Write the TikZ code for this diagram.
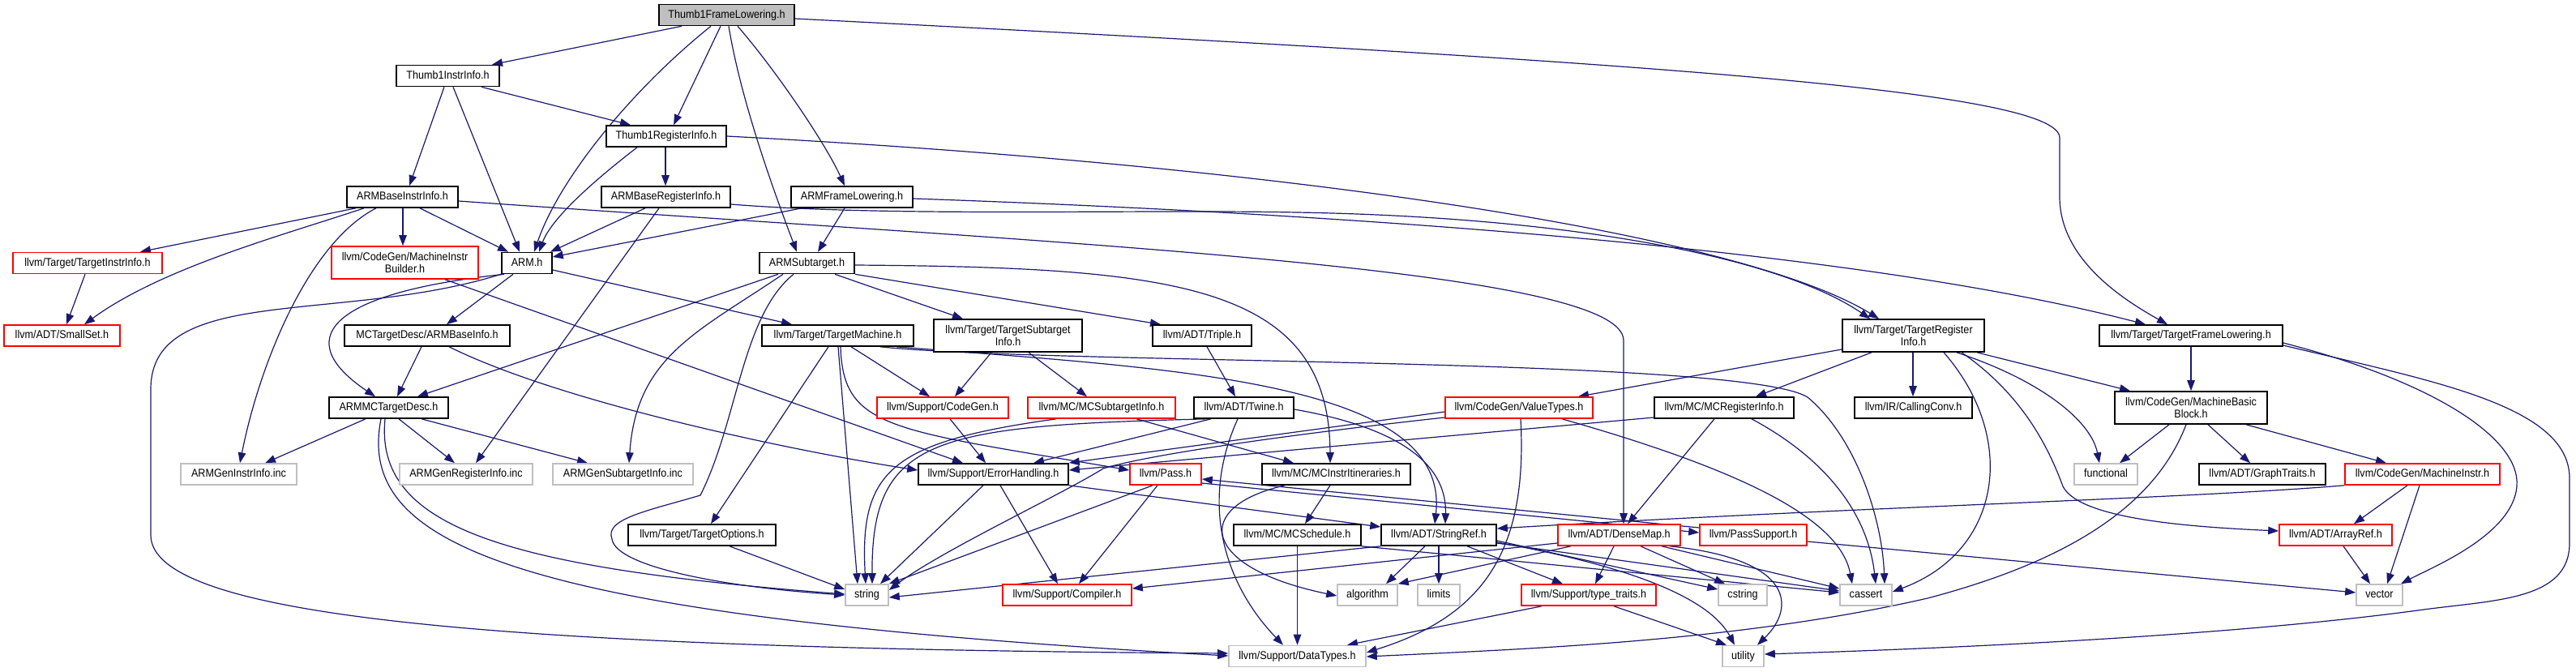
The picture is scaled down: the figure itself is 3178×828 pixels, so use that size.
\documentclass[tikz,border=0pt]{standalone}
\usepackage{fontspec}
\setmainfont{Liberation Sans}[FakeStretch=0.9]
\usetikzlibrary{arrows.meta,backgrounds}
\definecolor{edgec}{HTML}{191970}
\definecolor{rborder}{HTML}{FF0000}
\definecolor{gborder}{HTML}{BFBFBF}
\definecolor{rootfill}{HTML}{BFBFBF}
\newcommand{\graphfont}{\fontsize{14}{14.5}\selectfont}
\begin{document}
\begin{tikzpicture}[x=1pt,y=-1pt,
  nb/.style={rectangle, inner sep=0pt, line width=1.6pt, font=\graphfont, align=center, text=black, fill=white},
  bbox/.style={nb, draw=black, minimum height=26pt, text height=10.5pt, text depth=3.5pt},
  rbox/.style={nb, draw=rborder, minimum height=26pt, text height=10.5pt, text depth=3.5pt},
  gbox/.style={nb, draw=gborder, minimum height=26pt, text height=10.5pt, text depth=3.5pt},
  rootbox/.style={bbox, fill=rootfill},
  bbox2/.style={nb, draw=black, minimum height=40pt},
  rbox2/.style={nb, draw=rborder, minimum height=40pt},
  dep/.style={draw=edgec, line width=1.2pt, -{Triangle[length=13pt,width=9.5pt]}, line join=round},
]
\useasboundingbox (0,0) rectangle (3178,828);
% ---------- nodes ----------
\node[rootbox, minimum width=167pt] (t1fl) at (896.5,18.5) {Thumb1FrameLowering.h};
\node[bbox, minimum width=127pt] (t1ii) at (552.5,93.5) {Thumb1InstrInfo.h};
\node[bbox, minimum width=148pt] (t1ri) at (822,168) {Thumb1RegisterInfo.h};
\node[bbox, minimum width=137pt] (abii) at (496.5,243) {ARMBaseInstrInfo.h};
\node[bbox, minimum width=159pt] (abri) at (821.5,243) {ARMBaseRegisterInfo.h};
\node[bbox, minimum width=150pt] (afl) at (1051,243) {ARMFrameLowering.h};
\node[rbox, minimum width=184pt] (tii) at (108,324.5) {llvm/Target/TargetInstrInfo.h};
\node[rbox2, minimum width=181pt] (mib) at (499.5,324) {llvm/CodeGen/MachineInstr\\Builder.h};
\node[bbox, minimum width=62pt] (arm) at (650,324.5) {ARM.h};
\node[bbox, minimum width=117pt] (asub) at (995.5,324.5) {ARMSubtarget.h};
\node[rbox, minimum width=143pt] (ss) at (76.5,414) {llvm/ADT/SmallSet.h};
\node[bbox, minimum width=204pt] (abi) at (527,414) {MCTargetDesc/ARMBaseInfo.h};
\node[bbox, minimum width=187pt] (tm) at (1033.5,414) {llvm/Target/TargetMachine.h};
\node[bbox2, minimum width=183pt] (tsi) at (1243.5,414) {llvm/Target/TargetSubtarget\\Info.h};
\node[bbox, minimum width=122pt] (tri) at (1483,414) {llvm/ADT/Triple.h};
\node[bbox2, minimum width=175pt] (treg) at (2360.5,414) {llvm/Target/TargetRegister\\Info.h};
\node[bbox, minimum width=226pt] (tfl) at (2703,414) {llvm/Target/TargetFrameLowering.h};
\node[bbox, minimum width=147pt] (amctd) at (479.5,503) {ARMMCTargetDesc.h};
\node[rbox, minimum width=162pt] (cg) at (1163,503) {llvm/Support/CodeGen.h};
\node[rbox, minimum width=182pt] (mcsi) at (1359,503) {llvm/MC/MCSubtargetInfo.h};
\node[bbox, minimum width=123pt] (tw) at (1534.5,503) {llvm/ADT/Twine.h};
\node[rbox, minimum width=182pt] (vt) at (1874,503) {llvm/CodeGen/ValueTypes.h};
\node[bbox, minimum width=172pt] (mcri) at (2127,503) {llvm/MC/MCRegisterInfo.h};
\node[bbox, minimum width=145pt] (cc) at (2360.5,503) {llvm/IR/CallingConv.h};
\node[bbox2, minimum width=188pt] (mbb) at (2703,503) {llvm/CodeGen/MachineBasic\\Block.h};
\node[gbox, minimum width=143pt] (gii) at (294.5,585) {ARMGenInstrInfo.inc};
\node[gbox, minimum width=164pt] (gri) at (575,585) {ARMGenRegisterInfo.inc};
\node[gbox, minimum width=173pt] (gsi) at (768.5,585) {ARMGenSubtargetInfo.inc};
\node[bbox, minimum width=185pt] (eh) at (1225.5,585) {llvm/Support/ErrorHandling.h};
\node[rbox, minimum width=88pt] (pass) at (1438,585) {llvm/Pass.h};
\node[bbox, minimum width=183pt] (mcii) at (1648.5,585) {llvm/MC/MCInstrItineraries.h};
\node[gbox, minimum width=78pt] (func) at (2598,585) {functional};
\node[bbox, minimum width=156pt] (gt) at (2791,585) {llvm/ADT/GraphTraits.h};
\node[rbox, minimum width=191pt] (mi) at (2988.5,585) {llvm/CodeGen/MachineInstr.h};
\node[bbox, minimum width=182pt] (topt) at (866,660) {llvm/Target/TargetOptions.h};
\node[bbox, minimum width=157pt] (mcs) at (1600.5,660) {llvm/MC/MCSchedule.h};
\node[bbox, minimum width=142pt] (sr) at (1775,660) {llvm/ADT/StringRef.h};
\node[rbox, minimum width=151pt] (dm) at (1997.5,660) {llvm/ADT/DenseMap.h};
\node[rbox, minimum width=132pt] (ps) at (2163,660) {llvm/PassSupport.h};
\node[rbox, minimum width=139pt] (ar) at (2881.5,660) {llvm/ADT/ArrayRef.h};
\node[gbox, minimum width=53pt] (str) at (1069.5,734) {string};
\node[rbox, minimum width=159pt] (comp) at (1316.5,734) {llvm/Support/Compiler.h};
\node[gbox, minimum width=74pt] (alg) at (1687,734) {algorithm};
\node[gbox, minimum width=52pt] (lim) at (1775,734) {limits};
\node[rbox, minimum width=166pt] (tt) at (1960,734) {llvm/Support/type\_traits.h};
\node[gbox, minimum width=60pt] (cstr) at (2150,734) {cstring};
\node[gbox, minimum width=64pt] (cas) at (2302,734) {cassert};
\node[gbox, minimum width=57pt] (vec) at (2935.5,734) {vector};
\node[gbox, minimum width=169pt] (dt) at (1600.5,809.5) {llvm/Support/DataTypes.h};
\node[gbox, minimum width=51pt] (util) at (2150.5,809.5) {utility};
% ---------- edges ----------
\begin{pgfonlayer}{background}
\fill[white] (0,0) rectangle (3178,828);
% Thumb1FrameLowering.h
\draw[dep] (841,0 |- t1fl.south) -- (607,0 |- t1ii.north);
\draw[dep] (877,0 |- t1fl.south) .. controls (780,110) and (690,220) .. (659,0 |- arm.north);
\draw[dep] (889,0 |- t1fl.south) -- (831,0 |- t1ri.north);
\draw[dep] (899,0 |- t1fl.south) .. controls (915,130) and (960,250) .. (983,0 |- asub.north);
\draw[dep] (910,0 |- t1fl.south) .. controls (960,90) and (1020,180) .. (1042,0 |- afl.north);
\draw[dep] (t1fl.east |- 0,23) .. controls (2000,75) and (2541,110) .. (2541,170) -- (2541,243) .. controls (2541,320) and (2620,370) .. (2674,0 |- tfl.north);
% Thumb1InstrInfo.h
\draw[dep] (548,0 |- t1ii.south) -- (505,0 |- abii.north);
\draw[dep] (559,0 |- t1ii.south) -- (641,0 |- arm.north);
\draw[dep] (594,0 |- t1ii.south) -- (778,0 |- t1ri.north);
% Thumb1RegisterInfo.h
\draw[dep] (786,0 |- t1ri.south) .. controls (730,225) and (680,270) .. (665,0 |- arm.north);
\draw[dep] (821,0 |- t1ri.south) -- (821,0 |- abri.north);
\draw[dep] (t1ri.east |- 0,168) .. controls (1600,205) and (2150,290) .. (2318,0 |- treg.north);
% ARMBaseInstrInfo.h
\draw[dep] (439,0 |- abii.south) -- (173,0 |- tii.north);
\draw[dep] (449,0 |- abii.south) .. controls (350,290) and (200,330) .. (104,0 |- ss.north);
\draw[dep] (464,0 |- abii.south) .. controls (380,300) and (320,450) .. (296,0 |- gii.north);
\draw[dep] (497,0 |- abii.south) -- (497,0 |- mib.north);
\draw[dep] (518,0 |- abii.south) -- (627,0 |- arm.north);
\draw[dep] (abii.east |- 0,248) .. controls (1300,300) and (2003,330) .. (2003,420) -- (2003,0 |- dm.north);
% ARMBaseRegisterInfo.h
\draw[dep] (796,0 |- abri.south) -- (679,0 |- arm.north);
\draw[dep] (813,0 |- abri.south) -- (587,0 |- gri.north);
\draw[dep] (abri.east |- 0,252) .. controls (1100,268) and (1400,258) .. (1600,262) .. controls (1950,268) and (2200,320) .. (2307,0 |- treg.north);
% ARMFrameLowering.h
\draw[dep] (989,0 |- afl.south) -- (arm.east |- 0,317);
\draw[dep] (1042,0 |- afl.south) -- (1009,0 |- asub.north);
\draw[dep] (afl.east |- 0,245) .. controls (1700,265) and (2300,310) .. (2647,0 |- tfl.north);
% ARM.h
\draw[dep] (622,0 |- arm.south) .. controls (400,362) and (360,420) .. (463,0 |- amctd.north);
\draw[dep] (633,0 |- arm.south) -- (551,0 |- abi.north);
\draw[dep] (arm.east |- 0,333) -- (977,0 |- tm.north);
\draw[dep] (arm.south west) .. controls (420,400) and (186,350) .. (186,480) -- (186,660) .. controls (186,760) and (600,800) .. (dt.west |- 0,806);
% MCTargetDesc/ARMBaseInfo.h
\draw[dep] (520,0 |- abi.south) -- (490,0 |- amctd.north);
\draw[dep] (554,0 |- abi.south) .. controls (700,500) and (1000,560) .. (eh.west |- 0,580);
% MachineInstrBuilder.h
\draw[dep] (549,0 |- mib.south) -- (1188,0 |- eh.north);
% ARMSubtarget.h
\draw[dep] (960,0 |- asub.south) -- (515,0 |- amctd.north);
\draw[dep] (966,0 |- asub.south) .. controls (860,410) and (785,440) .. (776,0 |- gsi.north);
\draw[dep] (979,0 |- asub.south) .. controls (915,390) and (910,520) .. (864,611) .. controls (800,630) and (745,640) .. (755,665) .. controls (760,700) and (900,725) .. (str.west |- 0,734);
\draw[dep] (1030,0 |- asub.south) -- (1188,0 |- tsi.north);
\draw[dep] (asub.south east) -- (1432,0 |- tri.north);
\draw[dep] (asub.east |- 0,327) .. controls (1450,330) and (1640,350) .. (1641,0 |- mcii.north);
% TargetMachine.h
\draw[dep] (1022,0 |- tm.south) -- (877,0 |- topt.north);
\draw[dep] (1034,0 |- tm.south) -- (1058,0 |- str.north);
\draw[dep] (1050,0 |- tm.south) -- (1147,0 |- cg.north);
\draw[dep] (1037,0 |- tm.south) .. controls (1040,530) and (1100,530) .. (pass.west |- 0,580);
\draw[dep] (1086,0 |- tm.south) .. controls (1300,450) and (2150,440) .. (2230,490) .. controls (2290,540) and (2322,640) .. (2325,0 |- cas.north);
\draw[dep] (1106,0 |- tm.south) .. controls (1450,455) and (1790,470) .. (1770,0 |- sr.north);
% TargetSubtargetInfo.h, Triple.h, CodeGen.h, MCSubtargetInfo.h
\draw[dep] (1223,0 |- tsi.south) -- (1178,0 |- cg.north);
\draw[dep] (1269,0 |- tsi.south) -- (1341,0 |- mcsi.north);
\draw[dep] (1489,0 |- tri.south) -- (1524,0 |- tw.north);
\draw[dep] (1172,0 |- cg.south) -- (1216,0 |- eh.north);
\draw[dep] (1303,0 |- mcsi.south) .. controls (1100,545) and (1060,580) .. (1068,0 |- str.north);
\draw[dep] (1402,0 |- mcsi.south) -- (1596,0 |- mcii.north);
% Twine.h
\draw[dep] (1494,0 |- tw.south) -- (1275,0 |- eh.north);
\draw[dep] (1490,0 |- tw.south) .. controls (1150,525) and (1075,540) .. (1076,0 |- str.north);
\draw[dep] (1527,0 |- tw.south) .. controls (1480,620) and (1510,720) .. (1583,0 |- dt.north);
\draw[dep] (tw.east |- 0,505) .. controls (1740,530) and (1785,580) .. (1783,0 |- sr.north);
% ValueTypes.h
\draw[dep] (vt.west |- 0,508) -- (eh.east |- 0,571);
\draw[dep] (vt.west |- 0,515) .. controls (1600,535) and (1420,560) .. (1361,578) .. controls (1310,610) and (1160,680) .. (str.east |- 0,728);
\draw[dep] (1876,0 |- vt.south) .. controls (1885,680) and (1830,760) .. (dt.east |- 0,805);
\draw[dep] (1927,0 |- vt.south) .. controls (2150,580) and (2270,640) .. (2285,0 |- cas.north);
% MCRegisterInfo.h
\draw[dep] (mcri.west |- 0,515) -- (eh.east |- 0,580);
\draw[dep] (2115,0 |- mcri.south) -- (2008,0 |- dm.north);
\draw[dep] (2161,0 |- mcri.south) .. controls (2260,570) and (2305,640) .. (2314,0 |- cas.north);
% TargetRegisterInfo.h
\draw[dep] (treg.west |- 0,431) -- (1947,0 |- vt.north);
\draw[dep] (2309,0 |- treg.south) -- (2166,0 |- mcri.north);
\draw[dep] (2360,0 |- treg.south) -- (2360,0 |- cc.north);
\draw[dep] (2398,0 |- treg.south) .. controls (2490,540) and (2470,680) .. (cas.east |- 0,730);
\draw[dep] (2439,0 |- treg.south) -- (2628,0 |- mbb.north);
\draw[dep] (2414,0 |- treg.south) .. controls (2520,470) and (2580,520) .. (2590,0 |- func.north);
\draw[dep] (2420,0 |- treg.south) .. controls (2500,490) and (2530,560) .. (2545,600) .. controls (2565,640) and (2700,650) .. (ar.west |- 0,655);
% TargetFrameLowering.h
\draw[dep] (tfl.south) -- (mbb.north);
\draw[dep] (tfl.east |- 0,423) .. controls (3000,470) and (3110,540) .. (3105,600) .. controls (3100,660) and (3000,700) .. (2962,0 |- vec.north);
\draw[dep] (tfl.east |- 0,426) .. controls (3000,470) and (3170,500) .. (3170,590) -- (3170,670) .. controls (3170,740) and (3080,740) .. (2990,752) .. controls (2750,785) and (2400,800) .. (util.east |- 0,807);
% MachineBasicBlock.h
\draw[dep] (2676,0 |- mbb.south) -- (2615,0 |- func.north);
\draw[dep] (2724,0 |- mbb.south) -- (2776,0 |- gt.north);
\draw[dep] (2771,0 |- mbb.south) -- (2944,0 |- mi.north);
\draw[dep] (2697,0 |- mbb.south) .. controls (2660,620) and (2560,690) .. (2378,738) .. controls (2150,790) and (1900,800) .. (dt.east |- 0,810);
% MachineInstr.h, ArrayRef.h
\draw[dep] (2970,0 |- mi.south) -- (2904,0 |- ar.north);
\draw[dep] (2985,0 |- mi.south) -- (2945,0 |- vec.north);
\draw[dep] (mi.south west) .. controls (2700,615) and (2300,625) .. (sr.east |- 0,652);
\draw[dep] (2891,0 |- ar.south) -- (2924,0 |- vec.north);
% Pass.h / PassSupport.h
\draw[dep] (ps.west |- 0,651) -- (pass.east |- 0,591);
\draw[dep] (pass.east |- 0,596) -- (ps.west |- 0,657);
\draw[dep] (ps.east |- 0,668) -- (vec.west |- 0,731);
\draw[dep] (1422,0 |- pass.south) -- (str.north east);
\draw[dep] (1428,0 |- pass.south) -- (1331,0 |- comp.north);
% ErrorHandling.h
\draw[dep] (1213,0 |- eh.south) -- (1086,0 |- str.north);
\draw[dep] (1234,0 |- eh.south) -- (1305,0 |- comp.north);
\draw[dep] (eh.south east) -- (sr.west |- 0,650);
% MCInstrItineraries.h, MCSchedule.h
\draw[dep] (1641,0 |- mcii.south) -- (1610,0 |- mcs.north);
\draw[dep] (1585,0 |- mcii.south) .. controls (1470,625) and (1480,700) .. (alg.west |- 0,735);
\draw[dep] (mcs.south) -- (dt.north);
\draw[dep] (mcs.south east) -- (cas.west |- 0,731);
% StringRef.h
\draw[dep] (sr.south west) -- (str.east |- 0,737);
\draw[dep] (1758,0 |- sr.south) -- (1710,0 |- alg.north);
\draw[dep] (sr.south) -- (lim.north);
\draw[dep] (1810,0 |- sr.south) -- (1928,0 |- tt.north);
\draw[dep] (sr.east |- 0,667) -- (cstr.west |- 0,727);
\draw[dep] (sr.east |- 0,670) -- (cas.west |- 0,729);
\draw[dep] (sr.east |- 0,669) .. controls (2020,700) and (2110,740) .. (2140,0 |- util.north);
% DenseMap.h
\draw[dep] (dm.west |- 0,670) -- (comp.east |- 0,726);
\draw[dep] (1938,0 |- dm.south) -- (alg.north east);
\draw[dep] (1991,0 |- dm.south) -- (1968,0 |- tt.north);
\draw[dep] (2024,0 |- dm.south) -- (2128,0 |- cstr.north);
\draw[dep] (2050,0 |- dm.south) -- (cas.west |- 0,726);
\draw[dep] (2060,0 |- dm.south) .. controls (2215,690) and (2215,750) .. (2168,0 |- util.north);
% type_traits.h
\draw[dep] (1902,0 |- tt.south) -- (1662,0 |- dt.north);
\draw[dep] (1991,0 |- tt.south) -- (2130,0 |- util.north);
% TargetOptions.h, TargetInstrInfo.h
\draw[dep] (900,0 |- topt.south) -- (str.west |- 0,727);
\draw[dep] (105,0 |- tii.south) -- (82,0 |- ss.north);
% ARMMCTargetDesc.h
\draw[dep] (451,0 |- amctd.south) -- (327,0 |- gii.north);
\draw[dep] (492,0 |- amctd.south) -- (561,0 |- gri.north);
\draw[dep] (520,0 |- amctd.south) -- (725,0 |- gsi.north);
\draw[dep] (475,0 |- amctd.south) .. controls (462,650) and (620,700) .. (str.west |- 0,733);
\draw[dep] (470,0 |- amctd.south) .. controls (440,670) and (620,760) .. (dt.west |- 0,809);
\end{pgfonlayer}
\end{tikzpicture}
\end{document}
